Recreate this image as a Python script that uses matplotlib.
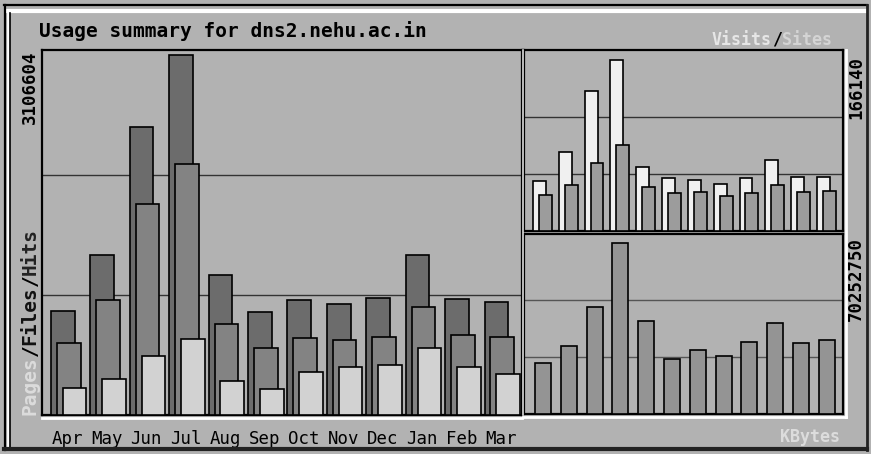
import numpy as np
import matplotlib
matplotlib.use('Agg')
import matplotlib.pyplot as plt
from matplotlib.lines import Line2D

# Usage summary data
months = ['Apr', 'May', 'Jun', 'Jul', 'Aug', 'Sep', 'Oct', 'Nov', 'Dec', 'Jan', 'Feb', 'Mar']
hits = [897000, 1381000, 2485000, 3106604, 1208000, 889000, 992000, 958000, 1010000, 1381000, 1001000, 975000]
files = [621000, 992000, 1821000, 2166000, 785000, 578000, 664000, 647000, 673000, 932000, 690000, 673000]
pages = [233000, 311000, 509000, 656000, 293000, 224000, 371000, 414000, 431000, 578000, 414000, 354000]
visits = [48600, 76800, 136000, 166140, 62200, 51500, 49600, 45700, 51500, 69000, 52500, 52500]
sites = [35000, 44700, 66100, 83600, 42700, 36900, 37900, 34000, 36900, 44700, 37900, 38900]
kbytes = [20950000, 27900000, 44000000, 70252750, 38200000, 22600000, 26300000, 23800000, 29600000,
          37400000, 29200000, 30400000]

W, H = 871, 454
BG = '#b2b2b2'
C_HITS = '#6c6c6c'
C_FILES = '#838383'
C_PAGES = '#d2d2d2'
C_VISITS = '#f0f0f0'
C_SITES = '#9c9c9c'
C_KBYTES = '#949494'
MONO = 'DejaVu Sans Mono'


def fx(x):
    return x / W


def fy(y):
    return 1 - y / H


def panel(x0, y0, x1, y1):
    ax = fig.add_axes([fx(x0), fy(y1), (x1 - x0) / W, (y1 - y0) / H])
    ax.set_facecolor(BG)
    for s in ax.spines.values():
        s.set_color('black')
        s.set_linewidth(1.6)
    ax.tick_params(left=False, right=False, labelleft=False, bottom=False, labelbottom=False)
    return ax


def hline(x0, x1, y, color, lw):
    fig.add_artist(Line2D([fx(x0), fx(x1)], [fy(y), fy(y)], color=color, lw=lw))


def vline(x, y0, y1, color, lw):
    fig.add_artist(Line2D([fx(x), fx(x)], [fy(y0), fy(y1)], color=color, lw=lw))


fig = plt.figure(figsize=(W / 100, H / 100), dpi=100, facecolor=BG)
x = np.arange(len(months))

# main panel: hits / files / pages
ax = panel(42, 50, 522, 415)
ax.bar(x, hits, 0.6, align='edge', color=C_HITS, edgecolor='black', linewidth=1.2, zorder=3)
ax.bar(x + 0.15, files, 0.6, align='edge', color=C_FILES, edgecolor='black', linewidth=1.2, zorder=3)
ax.bar(x + 0.3, pages, 0.6, align='edge', color=C_PAGES, edgecolor='black', linewidth=1.2, zorder=3)
ax.set_xlim(-0.228, 11.95)
ax.set_ylim(0, max(hits) * 365 / 360)
for frac in (1 / 3, 2 / 3):
    ax.axhline(max(hits) * frac, color='#333333', lw=1.0, zorder=1)
ax.set_xticks(x + 0.42, months)
ax.tick_params(axis='x', labelbottom=True, length=0, pad=11)
for lab in ax.get_xticklabels():
    lab.set_family(MONO)
    lab.set_fontsize(12.5)

# top right panel: visits / sites
ax2 = panel(524, 50, 843, 231)
ax2.bar(x, visits, 0.5, align='edge', color=C_VISITS, edgecolor='black', linewidth=1.2, zorder=3)
ax2.bar(x + 0.23, sites, 0.5, align='edge', color=C_SITES, edgecolor='black', linewidth=1.2, zorder=3)
ax2.set_xlim(-0.35, 12.01)
ax2.set_ylim(0, max(visits) * 181 / 171)
for frac in (1 / 3, 2 / 3):
    ax2.axhline(max(visits) * frac, color='#333333', lw=1.0, zorder=1)

# bottom right panel: kbytes
ax3 = panel(524, 234, 843, 414)
ax3.bar(x, kbytes, 0.62, align='edge', color=C_KBYTES, edgecolor='black', linewidth=1.2, zorder=3)
ax3.set_xlim(-0.43, 11.94)
ax3.set_ylim(0, max(kbytes) * 180 / 171)
for frac in (1 / 3, 2 / 3):
    ax3.axhline(max(kbytes) * frac, color='#555555', lw=1.0, zorder=1)

# outer bevel border
hline(4, 867, 5, 'black', 1.6)
hline(8, 866, 11, 'white', 3)
vline(5, 5, 450, 'black', 1.6)
vline(8, 11, 447, 'white', 2)
vline(10, 13, 447, 'black', 1.2)
hline(4, 867, 449, '#222222', 3)
vline(867, 5, 450, '#222222', 2)
# panel bevels
hline(42, 522, 418, 'white', 2)
hline(523, 846, 417, 'white', 2)
vline(846, 50, 417, 'white', 2)
vline(523, 50, 415, '#dddddd', 1.2)

# title and labels
fig.text(fx(39), fy(31), 'Usage summary for dns2.nehu.ac.in', family=MONO, weight='bold',
         fontsize=14, va='center', ha='left')
fig.text(fx(30), fy(124), '3106604', family=MONO, weight='bold', fontsize=12.5,
         rotation=90, ha='center', va='bottom')
fig.text(fx(856), fy(119), '166140', family=MONO, weight='bold', fontsize=12.5,
         rotation=90, ha='center', va='bottom')
fig.text(fx(856), fy(321), '70252750', family=MONO, weight='bold', fontsize=12.5,
         rotation=90, ha='center', va='bottom')

# Pages/Files/Hits, one colour per word, stacked upwards
cw = 0.602 * 14 * 100 / 72
y = 415
for word, col in [('Pages', '#dcdcdc'), ('/', 'black'), ('Files', '#111111'),
                  ('/', 'black'), ('Hits', '#222222')]:
    fig.text(fx(30), fy(y), word, family=MONO, weight='bold', fontsize=14, color=col,
             rotation=90, ha='center', va='bottom')
    y -= cw * len(word)

# Visits / Sites, right aligned
cw2 = 0.602 * 12 * 100 / 72
xr = 832
for word, col in [('Sites', '#d4d4d4'), ('/', 'black'), ('Visits', '#e6e6e6')]:
    fig.text(fx(xr), fy(40), word, family=MONO, weight='bold', fontsize=12, color=col,
             ha='right', va='center')
    xr -= cw2 * len(word)

fig.text(fx(840), fy(437), 'KBytes', family=MONO, weight='bold', fontsize=12, color='#dcdcdc',
         ha='right', va='center')

fig.savefig('out.png', dpi=100, facecolor=BG)
